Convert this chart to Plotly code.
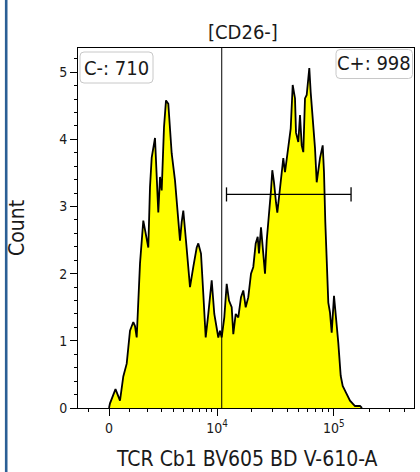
import numpy as np
import plotly.graph_objects as go

# ---- data (biexponential display channel units, count) ----
channel = [0, 1, 6.5, 9.3, 11, 14.3, 17.7, 19.3, 21, 24.3, 26, 27.7, 29.3, 31, 34.3, 37.7,
           39.3, 41, 42.7, 46, 47, 48.3, 49.3, 51, 52.7, 55, 57, 59.3, 60.3, 62.7, 66,
           68.3, 71, 72.7, 74.3, 77, 81, 84.3, 87.7, 89.3, 92, 94.3, 96.7, 99.3, 102.7,
           105.3, 107.7, 109.3, 111, 112.7, 115.3, 117.7, 120, 122.7, 124.3, 126.7, 129.3,
           132, 134.3, 136.7, 139.3, 142, 144.3, 146.7, 148.7, 150, 152, 154.3, 156, 157.7,
           159.3, 162, 163.3, 165, 167, 168.3, 171, 174.3, 176, 178.3, 180.3, 181.7, 183.7,
           186, 187, 189.3, 191, 192.7, 194.3, 196, 197.7, 200.3, 201.7, 203.7, 206, 207.7,
           209.3, 211, 213.7, 215, 216.3, 217.7, 219.3, 221, 222.7, 225, 227, 229.3, 231.7,
           233.7, 237, 241, 246, 251, 253]
count = [0, 0.07, 0.28, 0.18, 0.11, 0.47, 0.66, 0.9, 1.15, 1.28, 1.22, 1.05, 1.65, 2.15, 2.79,
         2.54, 2.39, 3.29, 3.73, 4.02, 3.69, 3.24, 2.91, 3.44, 3.24, 4.18, 4.58, 4.53, 4.33,
         3.79, 3.39, 2.99, 2.49, 2.77, 2.94, 2.49, 1.80, 2.10, 2.39, 2.45, 2.30, 1.70, 1.05,
         1.40, 1.90, 1.40, 1.15, 1.05, 1.15, 1.05, 1.35, 1.85, 1.60, 1.50, 1.10, 1.40, 1.35,
         1.65, 1.75, 1.50, 1.65, 2.00, 2.10, 2.45, 2.55, 2.30, 2.69, 2.30, 2.00, 2.49, 2.75,
         3.24, 3.54, 3.36, 3.06, 2.91, 3.27, 3.72, 3.51, 3.76, 3.96, 4.16, 4.81, 4.61, 4.10,
         3.96, 4.36, 3.91, 3.81, 4.61, 4.66, 5.06, 4.70, 4.36, 3.87, 3.36, 3.57, 3.72, 3.91,
         3.51, 2.77, 2.28, 1.57, 1.42, 1.12, 1.67, 1.38, 0.97, 0.48, 0.33, 0.23, 0.11, 0.03,
         0.03, 0]

major_tick_values = [0, 1e4, 1e5]
major_tick_labels = ["0", "10<sup>4</sup>", "10<sup>5</sup>"]
minor_tick_values = [-1000, 1000, 2000, 3000, 4000, 5000, 6000, 7000, 8000, 9000,
                     20000, 30000, 40000, 50000, 60000, 70000, 80000, 90000,
                     200000, 300000, 400000]

gate_split = 11000            # vertical gate line
bar_from, bar_to = 12100, 140000
bar_level = 3.18
label_neg = "C-: 710"
label_pos = "C+: 998"
title = "[CD26-]"
x_title = "TCR Cb1 BV605 BD V-610-A"
y_title = "Count"


def biex(v):
    return 51.08 * np.arcsinh(np.asarray(v, dtype=float) / 2450.0)


FONT = "DejaVu Sans Condensed"
W, H = 420, 472
ML, MR, MT, MB = 78, 6, 48, 64
PW, PH = W - ML - MR, H - MT - MB


def px2paper(px, py):
    return (px - ML) / PW, (H - MB - py) / PH


def rounded_box(x0, y0, x1, y1, r=4):
    # pixel coords -> paper coords path with rounded corners
    rx, ry = r / PW, r / PH
    a0, b1 = px2paper(x0, y0)
    a1, b0 = px2paper(x1, y1)
    return (f"M {a0+rx} {b1} L {a1-rx} {b1} Q {a1} {b1} {a1} {b1-ry} "
            f"L {a1} {b0+ry} Q {a1} {b0} {a1-rx} {b0} L {a0+rx} {b0} "
            f"Q {a0} {b0} {a0} {b0+ry} L {a0} {b1-ry} Q {a0} {b1} {a0+rx} {b1} Z")


fig = go.Figure()
fig.add_trace(go.Scatter(
    x=channel, y=count, mode="lines", fill="tozeroy",
    fillcolor="#ffff00", line=dict(color="black", width=1.8),
    hoverinfo="skip", showlegend=False))

split_x = float(biex(gate_split))
b0, b1 = float(biex(bar_from)), float(biex(bar_to))
cap = 0.105
shapes = [
    dict(type="line", xref="x", yref="paper", x0=split_x, x1=split_x, y0=0, y1=1,
         line=dict(color="black", width=1)),
    dict(type="line", xref="x", yref="y", x0=b0, x1=b1, y0=bar_level, y1=bar_level,
         line=dict(color="black", width=1.3)),
    dict(type="line", xref="x", yref="y", x0=b0, x1=b0, y0=bar_level - cap, y1=bar_level + cap,
         line=dict(color="black", width=1.3)),
    dict(type="line", xref="x", yref="y", x0=b1, x1=b1, y0=bar_level - cap, y1=bar_level + cap,
         line=dict(color="black", width=1.3)),
    dict(type="path", xref="paper", yref="paper", path=rounded_box(80, 52, 153, 83),
         fillcolor="white", line=dict(color="#c8c8c8", width=1)),
    dict(type="path", xref="paper", yref="paper", path=rounded_box(336, 49.5, 412.5, 78.5),
         fillcolor="white", line=dict(color="#c8c8c8", width=1)),
]
# blue left border
bx, _ = px2paper(6.2, 0)
_, ytop = px2paper(0, 0)
_, ybot = px2paper(0, H)
shapes.append(dict(type="line", xref="paper", yref="paper", x0=bx, x1=bx, y0=ybot, y1=ytop,
                   line=dict(color="#2b5f95", width=2.6)))

annots = []
ax_, ay_ = px2paper(116, 67.5)
annots.append(dict(text=label_neg, xref="paper", yref="paper", x=ax_, y=ay_,
                   showarrow=False, xanchor="center", yanchor="middle",
                   font=dict(family=FONT, size=20, color="#1a1a1a")))
ax_, ay_ = px2paper(374, 63.5)
annots.append(dict(text=label_pos, xref="paper", yref="paper", x=ax_, y=ay_,
                   showarrow=False, xanchor="center", yanchor="middle",
                   font=dict(family=FONT, size=20, color="#1a1a1a")))
ax_, ay_ = px2paper(242.5, 32)
annots.append(dict(text=title, xref="paper", yref="paper", x=ax_, y=ay_,
                   showarrow=False, xanchor="center", yanchor="middle",
                   font=dict(family=FONT, size=20, color="#1a1a1a")))
ax_, ay_ = px2paper(246.5, 459)
annots.append(dict(text=x_title, xref="paper", yref="paper", x=ax_, y=ay_,
                   showarrow=False, xanchor="center", yanchor="middle",
                   font=dict(family=FONT, size=21, color="#1a1a1a")))
ax_, ay_ = px2paper(17, 228)
annots.append(dict(text=y_title, xref="paper", yref="paper", x=ax_, y=ay_,
                   showarrow=False, xanchor="center", yanchor="middle", textangle=-90,
                   font=dict(family=FONT, size=21, color="#1a1a1a")))

fig.update_layout(
    width=W, height=H, margin=dict(l=ML, r=MR, t=MT, b=MB, pad=0),
    paper_bgcolor="white", plot_bgcolor="white",
    shapes=shapes, annotations=annots,
    xaxis=dict(range=[-31, 305], showgrid=False, zeroline=False,
               showline=True, mirror=True, linecolor="black", linewidth=1,
               ticks="outside", ticklen=7, tickcolor="black", tickwidth=1,
               tickmode="array", tickvals=biex(major_tick_values).tolist(),
               ticktext=major_tick_labels,
               tickfont=dict(family=FONT, size=14, color="#1a1a1a"),
               minor=dict(tickmode="array", tickvals=biex(minor_tick_values).tolist(),
                          ticks="outside", ticklen=3, tickcolor="black", showgrid=False)),
    yaxis=dict(range=[0, 5.36], showgrid=False, zeroline=False,
               showline=True, mirror=True, linecolor="black", linewidth=1,
               ticks="outside", ticklen=7, tickcolor="black", tickwidth=1,
               tick0=0, dtick=1,
               tickfont=dict(family=FONT, size=14, color="#1a1a1a"),
               minor=dict(dtick=0.2, ticks="outside", ticklen=3, tickcolor="black",
                          showgrid=False)),
)

fig.write_html("out.html")
